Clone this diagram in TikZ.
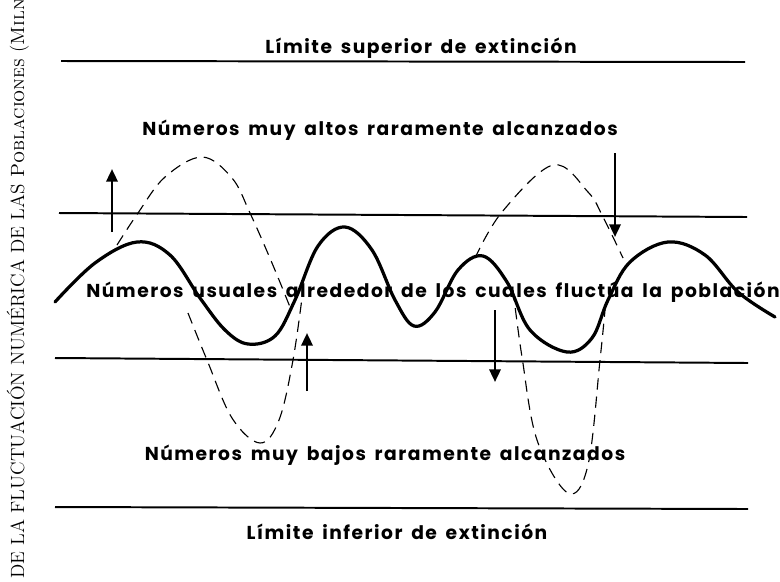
\documentclass[tikz,border=0pt]{standalone}
\usepackage{fontspec}
\newfontfamily\labelfont[LetterSpace=8, WordSpace=1.6]{Poppins}
\usetikzlibrary{arrows.meta}

\begin{document}
\begin{tikzpicture}[
    x=0.025cm, y=-0.025cm,
    label text/.style={font=\labelfont\bfseries\fontsize{13.3}{15}\selectfont, inner sep=0pt},
    side text/.style={font=\fontsize{13.6}{15}\selectfont, rotate=90, inner sep=0pt, anchor=base west},
    limit line/.style={line width=1.4pt},
    usual curve/.style={line width=2.3pt, line cap=round, line join=round},
    rare curve/.style={line width=0.8pt, dash pattern=on 8pt off 5pt},
    shift arrow/.style={-{Triangle[length=9pt, width=8pt]}, line width=1.8pt},
]

\clip (0,0) rectangle (780,581);

% --- Limit heights ---
\def\yTop{61}
\def\yHigh{213}
\def\yLow{358}
\def\yBottom{507}

% ======= SIDE CAPTION =======
\node[side text] (caption) at (24,579)
    {DE LA FLUCTUACIÓN NUMÉRICA DE LAS \textsc{Poblaciones} (\textsc{Miln}};

% ======= LIMIT LINES =======
\coordinate (top-L) at (61,\yTop);
\coordinate (top-R) at (745,\yTop+1);
\coordinate (high-L) at (59,\yHigh);
\coordinate (high-R) at (747,\yHigh+4);
\coordinate (low-L) at (55,\yLow);
\coordinate (low-R) at (748,\yLow+5);
\coordinate (bot-L) at (55,\yBottom);
\coordinate (bot-R) at (748,\yBottom+2);

\draw[limit line] (top-L) -- (top-R);
\draw[limit line] (high-L) -- (high-R);
\draw[limit line] (low-L) -- (low-R);
\draw[limit line] (bot-L) -- (bot-R);

% ======= LABELS =======
\node[label text] (sup-limit) at (421,48) {Límite superior de extinción};
\node[label text] (high-rare) at (380,130) {Números muy altos raramente alcanzados};
\node[label text] (usual) at (433,292) {Números usuales alrededor de los cuales fluctúa la población};
\node[label text] (low-rare) at (385,455) {Números muy bajos raramente alcanzados};
\node[label text] (inf-limit) at (397,532) {Límite inferior de extinción};

% ======= USUAL FLUCTUATION =======
\draw[usual curve] plot[smooth, tension=0.6] coordinates {
    (55,302) (95,263) (137,242) (170,255) (200,298) (225,330) (248,344)
    (275,336) (295,300) (318,246) (345,227) (372,250) (395,300) (414,326)
    (435,312) (458,270) (483,256) (507,282) (530,330) (567,352)
    (592,338) (608,300) (630,262) (668,242) (705,255) (738,292) (775,317)};

% ======= RARE EXCURSIONS =======
\draw[rare curve] plot[smooth, tension=0.6] coordinates {
    (117,245) (138,213) (165,177) (202,157) (232,178) (250,213) (272,263) (290,307)};
\draw[rare curve] plot[smooth, tension=0.6] coordinates {
    (188,313) (207,360) (232,418) (260,443) (279,420) (293,360) (303,290)};
\draw[rare curve] plot[smooth, tension=0.6] coordinates {
    (475,258) (502,212) (553,165) (588,192) (603,217) (623,258)};
\draw[rare curve] plot[smooth, tension=0.6] coordinates {
    (513,290) (522,357) (537,440) (568,493) (588,465) (600,360) (605,310)};

% ======= SHIFT ARROWS =======
\coordinate (up1-tail) at (112,232);
\coordinate (up1-tip) at (112,169);
\coordinate (down1-tail) at (615,153);
\coordinate (down1-tip) at (615,237);
\coordinate (up2-tail) at (307,391);
\coordinate (up2-tip) at (307,333);
\coordinate (down2-tail) at (495,310);
\coordinate (down2-tip) at (495,382);

\draw[shift arrow] (up1-tail) -- (up1-tip);
\draw[shift arrow] (down1-tail) -- (down1-tip);
\draw[shift arrow] (up2-tail) -- (up2-tip);
\draw[shift arrow] (down2-tail) -- (down2-tip);

\end{tikzpicture}
\end{document}
